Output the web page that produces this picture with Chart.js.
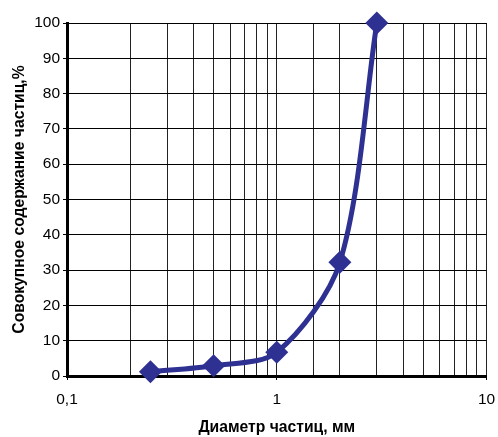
<!DOCTYPE html>
<html>
<head>
<meta charset="utf-8">
<script src="https://cdn.jsdelivr.net/npm/chart.js@4"></script>
<style>
  html, body { margin: 0; padding: 0; background: #fff; }
  #wrap { width: 498px; height: 437px; }
</style>
</head>
<body>
<div id="wrap"><canvas id="canvas1" width="498" height="437"></canvas></div>
<script>
// particle diameter, mm and cumulative content, %
const diameters = [0.25, 0.5, 1, 2, 3];
const cumulative = [1.2, 2.9, 6.7, 32.2, 100];
const yTicks = [0, 10, 20, 30, 40, 50, 60, 70, 80, 90, 100];
const xLabels = { 0.1: "0,1", 1: "1", 10: "10" };

const points = diameters.map((d, i) => ({ x: d, y: cumulative[i] }));
const lineColor = "#2e3192";
const fontFamily = "Liberation Sans, Arial, sans-serif";

var ctx1 = document.getElementById("canvas1").getContext("2d");

let myChart = new Chart(ctx1, {
  type: "line",
  data: {
    datasets: [
      {
        data: points,
        borderColor: lineColor,
        backgroundColor: lineColor,
        borderWidth: 5,
        tension: 0.3,
        clip: false,
        pointStyle: "rectRot",
        pointRadius: 11.5,
        pointHoverRadius: 11.5,
        pointBorderWidth: 0,
      },
    ],
  },
  options: {
    responsive: false,
    animation: false,
    layout: { padding: { left: 0, right: 0, top: 23, bottom: 0 } },
    plugins: {
      legend: { display: false },
      tooltip: { enabled: false },
    },
    scales: {
      x: {
        type: "logarithmic",
        min: 0.1,
        max: 10,
        afterFit: (s) => { s.height = 61; s.paddingRight = 10; },
        border: { color: "#000", width: 3 },
        grid: {
          color: "#222",
          lineWidth: 1,
          tickLength: 4,
          tickColor: (c) => (c.tick && xLabels[c.tick.value] ? "#000" : "rgba(0,0,0,0)"),
        },
        ticks: {
          autoSkip: false,
          maxRotation: 0,
          padding: 10,
          color: "#000",
          font: { family: fontFamily, size: 15.5 },
          callback: (v) => (xLabels[v] !== undefined ? xLabels[v] : ""),
        },
        title: {
          display: true,
          text: "Диаметр частиц, мм",
          color: "#000",
          font: { family: fontFamily, size: 15.7, weight: "bold" },
          padding: { top: 0, bottom: 0 },
        },
      },
      y: {
        min: 0,
        max: 100,
        afterFit: (s) => { s.width = 67; },
        afterBuildTicks: (s) => { s.ticks = yTicks.map((v) => ({ value: v })); },
        border: { color: "#000", width: 3 },
        grid: { color: "#000", lineWidth: 1, tickLength: 4, tickColor: "#000" },
        ticks: {
          padding: 3,
          color: "#000",
          font: { family: fontFamily, size: 15.5 },
        },
        title: {
          display: true,
          text: "Совокупное содержание частиц,%",
          color: "#000",
          font: { family: fontFamily, size: 15.7, weight: "bold" },
          padding: { top: 10, bottom: 0 },
        },
      },
    },
  },
});
</script>
</body>
</html>
